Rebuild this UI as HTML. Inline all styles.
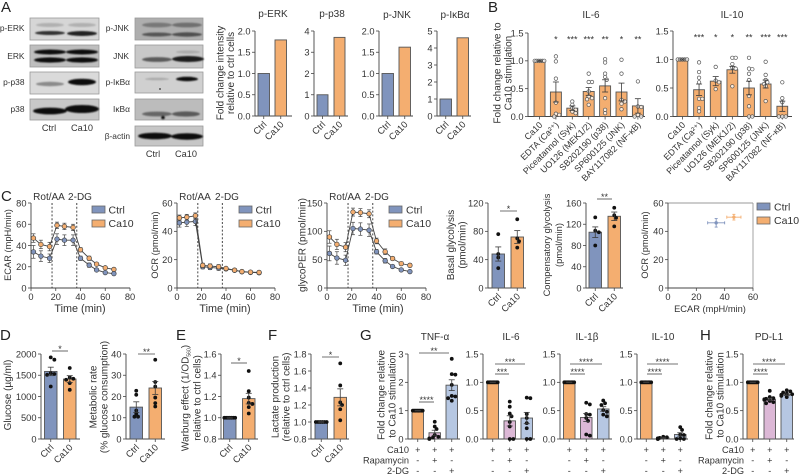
<!DOCTYPE html>
<html lang="en">
<head>
<meta charset="utf-8">
<title>Multi-panel figure</title>
<style>
html,body{margin:0;padding:0;background:#fff;width:800px;height:475px;overflow:hidden}
svg{display:block;filter:blur(0.3px)}
text{font-family:"Liberation Sans",Arial,sans-serif;fill:#333;font-size:9px}
.big{font-size:15px;fill:#222}
.ttl{font-size:10px;text-anchor:middle}
.at{font-size:10px;text-anchor:middle}
.at9{font-size:9.3px;text-anchor:middle}
.tm{font-size:10.8px;text-anchor:middle}
.leg{font-size:10.5px}
.blab{font-size:8.4px;text-anchor:end}
.lane{font-size:9.2px;text-anchor:middle}
.rl{font-size:9.2px;text-anchor:end}
</style>
</head>
<body>
<svg id="figure" width="800" height="475" viewBox="0 0 800 475" xmlns="http://www.w3.org/2000/svg">
<defs>
<filter id="bl" x="-20%" y="-80%" width="140%" height="260%"><feGaussianBlur stdDeviation="0.9"/></filter>
</defs>

<!-- Panel letters -->
<text class="big" x="1" y="12">A</text>
<text class="big" x="488" y="12">B</text>
<text class="big" x="1" y="201">C</text>
<text class="big" x="0" y="340">D</text>
<text class="big" x="176" y="340">E</text>
<text class="big" x="268" y="340">F</text>
<text class="big" x="360" y="340">G</text>
<text class="big" x="700" y="340">H</text>

<!-- Western blots -->
<g>
  <g><rect x="30" y="18" width="69" height="22" fill="#d6d6d6" stroke="#999" stroke-width=".8"/><g filter="url(#bl)"><ellipse cx="50" cy="25" rx="14" ry="2" fill="#b0b0b0"/><ellipse cx="82" cy="25" rx="14" ry="2" fill="#b0b0b0"/><ellipse cx="50" cy="33" rx="15" ry="2" fill="#333"/><ellipse cx="82" cy="33.5" rx="15" ry="2.5" fill="#222"/></g></g>
  <g><rect x="30" y="45" width="69" height="22" fill="#bebebe" stroke="#999" stroke-width=".8"/><g filter="url(#bl)"><ellipse cx="50" cy="52" rx="16" ry="2.5" fill="#111"/><ellipse cx="82" cy="52" rx="16" ry="2.5" fill="#111"/><ellipse cx="50" cy="60" rx="16" ry="2.6" fill="#111"/><ellipse cx="82" cy="60" rx="16" ry="2.6" fill="#111"/></g></g>
  <g><rect x="30" y="72" width="69" height="22" fill="#dadada" stroke="#999" stroke-width=".8"/><g filter="url(#bl)"><ellipse cx="50" cy="84" rx="14" ry="2.2" fill="#8a8a8a"/><ellipse cx="82" cy="82" rx="14" ry="3.2" fill="#111"/></g></g>
  <g><rect x="30" y="99" width="69" height="21" fill="#c8c8c8" stroke="#999" stroke-width=".8"/><g filter="url(#bl)"><ellipse cx="50" cy="111" rx="17" ry="3.4" fill="#0c0c0c"/><ellipse cx="82" cy="109" rx="17" ry="4" fill="#0c0c0c"/></g></g>
  <text class="blab" x="24.5" y="31">p-ERK</text>
  <text class="blab" x="24.5" y="59">ERK</text>
  <text class="blab" x="24.5" y="85">p-p38</text>
  <text class="blab" x="24.5" y="112">p38</text>
  <text class="lane" x="49" y="131">Ctrl</text>
  <text class="lane" x="82" y="131">Ca10</text>
</g>
<g>
  <g><rect x="135" y="18" width="68" height="22" fill="#aeaeae" stroke="#999" stroke-width=".8"/><g filter="url(#bl)"><ellipse cx="157" cy="25" rx="15" ry="2.4" fill="#787878"/><ellipse cx="187" cy="25" rx="15" ry="2.4" fill="#707070"/><ellipse cx="157" cy="34.5" rx="15" ry="2" fill="#555"/><ellipse cx="187" cy="34.5" rx="15" ry="2.2" fill="#505050"/></g></g>
  <g><rect x="135" y="45" width="68" height="23" fill="#c8c8c8" stroke="#999" stroke-width=".8"/><g filter="url(#bl)"><ellipse cx="188" cy="52" rx="12" ry="1.5" fill="#aaa"/><ellipse cx="157" cy="59.5" rx="15" ry="2.4" fill="#5a5a5a"/><ellipse cx="188" cy="59" rx="16" ry="3" fill="#1a1a1a"/></g></g>
  <g><rect x="135" y="72" width="68" height="21" fill="#d0d0d0" stroke="#999" stroke-width=".8"/><g filter="url(#bl)"><ellipse cx="157" cy="79" rx="12" ry="1.3" fill="#aaa"/><ellipse cx="187" cy="79" rx="11" ry="2.2" fill="#111"/></g><circle cx="160" cy="89" r=".9" fill="#333"/></g>
  <g><rect x="135" y="99" width="68" height="21" fill="#bcbcbc" stroke="#999" stroke-width=".8"/><g filter="url(#bl)"><ellipse cx="157" cy="114" rx="15" ry="2.4" fill="#666"/><ellipse cx="186" cy="114" rx="14" ry="2.6" fill="#5a5a5a"/><circle cx="163" cy="117.5" r="1.8" fill="#111"/></g></g>
  <g><rect x="135" y="126" width="68" height="20" fill="#c6c6c6" stroke="#999" stroke-width=".8"/><g filter="url(#bl)"><ellipse cx="155" cy="136" rx="17" ry="3.3" fill="#0c0c0c"/><ellipse cx="187" cy="136.5" rx="16" ry="3.2" fill="#0c0c0c"/></g></g>
  <text class="blab" x="129" y="31">p-JNK</text>
  <text class="blab" x="129" y="59">JNK</text>
  <text class="blab" x="130" y="85">p-IκBα</text>
  <text class="blab" x="130" y="112">IκBα</text>
  <text class="blab" x="130" y="139">β-actin</text>
  <text class="lane" x="153" y="157">Ctrl</text>
  <text class="lane" x="186" y="157">Ca10</text>
</g>

<!-- Titles -->
<text class="ttl" x="273" y="17">p-ERK</text>
<text class="ttl" x="332" y="17">p-p38</text>
<text class="ttl" x="397" y="18">p-JNK</text>
<text class="ttl" x="455" y="18">p-IκBα</text>
<text class="ttl" x="591" y="18">IL-6</text>
<text class="ttl" x="732" y="18">IL-10</text>
<text class="ttl" x="435" y="340">TNF-α</text>
<text class="ttl" x="511" y="340">IL-6</text>
<text class="ttl" x="587" y="340">IL-1β</text>
<text class="ttl" x="663" y="340">IL-10</text>
<text class="ttl" x="769" y="340">PD-L1</text>

<!-- Axis titles -->
<g>
<text class="at" transform="translate(223.500,73) rotate(-90)">Fold change intensity</text>
<text class="at" transform="translate(234,73) rotate(-90)">relative to ctrl cells</text>
<text class="at" transform="translate(500.500,73) rotate(-90)">Fold change relative to</text>
<text class="at" transform="translate(511.500,73) rotate(-90)">Ca10 stimulation</text>
<text class="at9" transform="translate(11,245) rotate(-90)">ECAR (mpH/min)</text>
<text class="at9" transform="translate(158,245) rotate(-90)">OCR (pmol/min)</text>
<text class="at" transform="translate(305.500,245) rotate(-90)">glycoPER (pmol/min)</text>
<text class="at" transform="translate(454,245) rotate(-90)">Basal glycolysis</text>
<text class="at" transform="translate(465.500,245) rotate(-90)">(pmol/min)</text>
<text class="at9" transform="translate(550,245) rotate(-90)">Compensatory glycolysis</text>
<text class="at9" transform="translate(562,245) rotate(-90)">(pmol/min)</text>
<text class="at9" transform="translate(648,245) rotate(-90)">OCR (pmol/min)</text>
<text class="tm" x="80" y="312">Time (min)</text>
<text class="tm" x="225" y="312">Time (min)</text>
<text class="tm" x="378" y="312">Time (min)</text>
<text class="at9" x="710" y="312">ECAR (mpH/min)</text>
<text class="at" transform="translate(11,395) rotate(-90)">Glucose (µg/ml)</text>
<text class="at" transform="translate(96.500,397) rotate(-90)">Metabolic rate</text>
<text class="at" transform="translate(107.500,397) rotate(-90)">(% glucose consumption)</text>
<text class="at" transform="translate(188.500,398) rotate(-90)">Warburg effect (1/OD<tspan font-size="5" style="font-size:5px" dy="2">560</tspan><tspan dy="-2">)</tspan></text>
<text class="at" transform="translate(200.500,398) rotate(-90)">relative to ctrl cells)</text>
<text class="at" transform="translate(278.500,397) rotate(-90)">Lactate production</text>
<text class="at" transform="translate(289.500,397) rotate(-90)">(relative to ctrl cells)</text>
<text class="at" transform="translate(384.500,395) rotate(-90)">Fold change relative</text>
<text class="at" transform="translate(395.500,395) rotate(-90)">to Ca10 stimulation</text>
<text class="at" transform="translate(712.500,395) rotate(-90)">Fold change relative</text>
<text class="at" transform="translate(723.500,395) rotate(-90)">to Ca10 stimulation</text>
</g>

<!-- Seahorse annotations -->
<g>
<text class="at" x="49" y="200">Rot/AA</text>
<text class="at" x="80" y="200">2-DG</text>
<text class="at" x="195" y="200">Rot/AA</text>
<text class="at" x="227" y="200">2-DG</text>
<text class="at" x="345" y="200">Rot/AA</text>
<text class="at" x="377" y="200">2-DG</text>
</g>

<!-- Legends -->
<g>
<rect x="92" y="206" width="13" height="7" fill="#8094bd" stroke="#666" stroke-width=".8"/><text class="leg" x="108.500" y="213.500">Ctrl</text>
<rect x="92" y="220" width="13" height="7" fill="#f4ae70" stroke="#666" stroke-width=".8"/><text class="leg" x="108.500" y="227">Ca10</text>
</g>
<g>
<rect x="239" y="206" width="13" height="7" fill="#8094bd" stroke="#666" stroke-width=".8"/><text class="leg" x="255.500" y="213.500">Ctrl</text>
<rect x="239" y="220" width="13" height="7" fill="#f4ae70" stroke="#666" stroke-width=".8"/><text class="leg" x="255.500" y="227">Ca10</text>
</g>
<g>
<rect x="389" y="206" width="13" height="7" fill="#8094bd" stroke="#666" stroke-width=".8"/><text class="leg" x="406" y="213.500">Ctrl</text>
<rect x="389" y="220" width="13" height="7" fill="#f4ae70" stroke="#666" stroke-width=".8"/><text class="leg" x="406" y="227">Ca10</text>
</g>
<g>
<rect x="757" y="203" width="13" height="7" fill="#8094bd" stroke="#666" stroke-width=".8"/><text class="leg" x="774" y="210.500">Ctrl</text>
<rect x="757" y="217" width="13" height="7" fill="#f4ae70" stroke="#666" stroke-width=".8"/><text class="leg" x="774" y="224">Ca10</text>
</g>

<!-- Treatment row labels -->
<g>
<text class="rl" x="409" y="453">Ca10</text>
<text class="rl" x="409" y="463.500">Rapamycin</text>
<text class="rl" x="409" y="474">2-DG</text>
<text class="rl" x="744" y="453">Ca10</text>
<text class="rl" x="744" y="463.500">Rapamycin</text>
<text class="rl" x="744" y="474">2-DG</text>
</g>

<g id="marks"></g>
</svg>

<script>
// ---------- Chart data ----------
const groupCats = ['Ctrl', 'Ca10'];
const inhibitorCats = ['Ca10', 'EDTA (Ca²⁺)', 'Piceatannol (Syk)', 'UO126 (MEK1/2)', 'SB202190 (p38)', 'SP600125 (JNK)', 'BAY117082 (NF-κB)'];

const perkMeans = [1, 1.79];
const pp38Means = [1, 3.7];
const pjnkMeans = [1, 1.62];
const pikbaMeans = [1, 4.6];
const ticksTwo = [0, 0.5, 1, 1.5, 2];
const labelsTwo = ['0.0', '0.5', '1.0', '1.5', '2.0'];
const ticksFour = [0, 1, 2, 3, 4];
const ticksFive = [0, 1, 2, 3, 4, 5];
const ticksOneHalf = [0, 0.5, 1, 1.5];
const labelsOneHalf = ['0.0', '0.5', '1.0', '1.5'];

const il6Means = [1, 0.44, 0.15, 0.45, 0.55, 0.44, 0.19];
const il6Errors = [0.01, 0.18, 0.04, 0.07, 0.11, 0.16, 0.13];
const il6Stars = ['', '*', '***', '***', '**', '*', '**'];
const il6Dots = [
  [1, 1, 1, 1, 1, 1],
  [1.08, 0.99, 0.68, 0.25, 0.05, 0.03, 0],
  [0.27, 0.21, 0.15, 0.12, 0.09, 0.06],
  [0.77, 0.62, 0.62, 0.45, 0.36, 0.33, 0.31, 0.21],
  [1.03, 0.97, 0.77, 0.71, 0.66, 0.33, 0.12, 0.06],
  [1.02, 0.77, 0.3, 0.27, 0.23, 0.13],
  [0.63, 0.18, 0.17, 0.03, 0, 0]
];
const il10Means = [1, 0.47, 0.62, 0.82, 0.5, 0.57, 0.18];
const il10Errors = [0.01, 0.1, 0.08, 0.06, 0.12, 0.07, 0.09];
const il10Stars = ['', '***', '*', '*', '**', '***', '***'];
const il10Dots = [
  [1, 1, 1, 1, 1],
  [0.95, 0.78, 0.68, 0.6, 0.31, 0.31, 0.15, 0.09],
  [0.87, 0.63, 0.6, 0.48],
  [1.03, 1.03, 0.92, 0.86, 0.84, 0.53],
  [1.03, 0.84, 0.83, 0.75, 0.64, 0.36, 0.18, 0, 0],
  [0.96, 0.73, 0.64, 0.6, 0.57, 0.53, 0.27],
  [0.6, 0.32, 0.25, 0, 0, 0]
];

const seahorseTimes = [2, 8, 15, 21, 27, 34, 40, 47, 53, 60, 67];
const ecarCtrl = [34, 30, 28, 46, 45, 45, 28, 21.5, 17, 14.5, 13.5];
const ecarCtrlErr = [6, 5, 4, 5, 5, 5, 2, 2, 1, 1, 1];
const ecarCa10 = [47, 41, 39, 59, 58, 57, 36, 28, 22.5, 19, 17.5];
const ecarCa10Err = [4, 4, 4, 3, 3, 3, 2, 2, 1, 1, 1];
const ocrCtrl = [46, 46.5, 47, 15, 14.5, 14, 13.5, 12.5, 11.5, 11, 10.8];
const ocrCtrlErr = [3, 3, 3, 1.5, 1.5, 1.5, 1, 1, 1, 1, 1];
const ocrCa10 = [49.5, 50, 51, 16, 15.5, 15, 13.8, 12.6, 11.6, 11.2, 11];
const ocrCa10Err = [2, 2, 2, 1.5, 1.5, 1.5, 1, 1, 1, 1, 1];
const glycoCtrl = [61, 53, 49, 105, 104, 102, 64, 48, 38, 32, 29];
const glycoCtrlErr = [13, 11, 9, 11, 11, 11, 4, 4, 2, 2, 2];
const glycoCa10 = [90, 77, 72, 134, 133, 131, 83, 64, 52, 43, 40];
const glycoCa10Err = [11, 9, 8, 7, 7, 7, 5, 5, 3, 3, 3];
const ticksEcar = [0, 20, 40, 60, 80];
const ticksOcr = [0, 20, 40, 60];
const ticksGlyco = [0, 50, 100, 150];
const ticksTime = [0, 20, 40, 60, 80];
const treatmentTimes = [17, 37];

const basalMeans = [48, 72];
const basalErrors = [10, 9];
const basalDots = [[76, 48, 43, 28], [97, 70, 66, 57]];
const ticksBasal = [0, 40, 80, 120];
const compMeans = [105, 135];
const compErrors = [10, 8];
const compDots = [[133, 108, 105, 80], [151, 137, 132, 116]];
const ticksComp = [0, 40, 80, 120, 160];

const xyEcar = [34, 46.5];
const xyEcarErr = [6, 5];
const xyOcr = [46, 50];
const xyOcrErr = [3, 2];
const ticksXy = [0, 20, 40, 60];

const glucoseMeans = [1590, 1410];
const glucoseErrors = [100, 80];
const glucoseDots = [[1921, 1866, 1550, 1530, 1510, 1236], [1670, 1450, 1417, 1394, 1315, 1157]];
const ticksGlucose = [0, 500, 1000, 1500, 2000];
const metabolicMeans = [15, 24];
const metabolicErrors = [2.5, 3];
const metabolicDots = [[22.7, 20.8, 13.4, 11.8, 10.5, 10.5], [37.3, 26.8, 24.7, 19.5, 16.9, 15.3]];
const ticksMetabolic = [0, 10, 20, 30, 40];
const warburgMeans = [1, 1.18];
const warburgErrors = [0.005, 0.05];
const warburgDots = [[1, 1, 1, 1, 1, 1, 1], [1.44, 1.25, 1.19, 1.14, 1.13, 1.1, 1.04]];
const ticksWarburg = [0.8, 1, 1.2, 1.4, 1.6];
const labelsWarburg = ['0.8', '1.0', '1.2', '1.4', '1.6'];
const lactateMeans = [1, 1.29];
const lactateErrors = [0.005, 0.1];
const lactateDots = [[1, 1, 1, 1, 1, 1], [1.69, 1.43, 1.23, 1.2, 1.15, 1.02]];
const ticksLactate = [0.8, 1, 1.2, 1.4, 1.6, 1.8];
const labelsLactate = ['0.8', '1.0', '1.2', '1.4', '1.6', '1.8'];

const onesEight = [1, 1, 1, 1, 1, 1, 1, 1];
const tnfMeans = [1, 0.22, 1.9];
const tnfErrors = [0.01, 0.09, 0.19];
const tnfDots = [onesEight, [0.61, 0.44, 0.35, 0.14, 0.08, 0.05, 0.02, 0], [2.83, 2.29, 2.27, 1.91, 1.52, 1.5, 1.44, 1.35]];
const ticksTnf = [0, 1, 2, 3];
const gIl6Means = [1, 0.32, 0.37];
const gIl6Errors = [0.005, 0.09, 0.1];
const gIl6Dots = [onesEight, [0.66, 0.57, 0.45, 0.4, 0.3, 0.22, 0, 0], [0.73, 0.72, 0.44, 0.37, 0.28, 0.19, 0, 0]];
const il1bMeans = [1, 0.38, 0.53];
const il1bErrors = [0.005, 0.07, 0.04];
const il1bDots = [onesEight, [0.64, 0.61, 0.44, 0.43, 0.37, 0.32, 0.08, 0.06], [0.68, 0.63, 0.6, 0.51, 0.48, 0.43, 0.4]];
const gIl10Means = [1, 0.02, 0.08];
const gIl10Errors = [0.005, 0.01, 0.03];
const gIl10Dots = [onesEight, [0.04, 0.03, 0.02, 0.01, 0.01, 0, 0], [0.21, 0.16, 0.08, 0.07, 0.01, 0, 0]];
const pdl1Means = [1, 0.7, 0.78];
const pdl1Errors = [0.005, 0.02, 0.015];
const pdl1Dots = [onesEight, [0.85, 0.74, 0.72, 0.71, 0.7, 0.69, 0.67, 0.65, 0.63], [0.86, 0.84, 0.82, 0.8, 0.79, 0.78, 0.76, 0.74]];
const signCa10 = ['+', '+', '+'];
const signRapamycin = ['-', '+', '-'];
const sign2dg = ['-', '-', '+'];

// ---------- Drawing helpers ----------
const NS = 'http://www.w3.org/2000/svg';
const root = document.getElementById('marks');
const BLUE = '#8094bd', ORANGE = '#f4ae70', PINK = '#dcb8d6', LIGHT = '#b6c7e2';
const STROKE = '#555', AXIS = '#444';

function mk(tag, attrs, parent) {
  const el = document.createElementNS(NS, tag);
  for (const k in attrs) el.setAttribute(k, attrs[k]);
  parent.appendChild(el);
  return el;
}
function linear(d0, d1, r0, r1) {
  return v => r0 + (v - d0) / (d1 - d0) * (r1 - r0);
}
function seg(parent, x1, y1, x2, y2, color, w, name) {
  const el = mk('line', { x1, y1, x2, y2, stroke: color, 'stroke-width': w }, parent);
  
  
  return el;
}
function label(parent, x, y, str, anchor, name, extra) {
  const el = mk('text', Object.assign({ x, y, 'text-anchor': anchor }, extra || {}), parent);
  el.textContent = str;
  
  
  return el;
}
function yAxis(g, x, y, ticks, labels) {
  seg(g, x, y(ticks[0]), x, y(ticks[ticks.length - 1]), AXIS, 0.9, 'y-axis-line');
  ticks.forEach((t, i) => {
    seg(g, x - 3, y(t), x, y(t), AXIS, 0.8, 'y-tick');
    const tl = label(g, x - 4.5, y(t) + 3.3, labels ? labels[i] : String(t), 'end', 'y-tick-label');
    tl.style.fontSize = '9.3px';
  });
}
function xTicks(g, y0, ticks, x, labels) {
  ticks.forEach((t, i) => {
    seg(g, x(t), y0, x(t), y0 + 3, AXIS, 0.8, 'x-tick');
    const tl = label(g, x(t), y0 + 12, labels ? labels[i] : String(t), 'middle', 'x-tick-label');
    tl.style.fontSize = '9.3px';
  });
}
// Beeswarm: spreads overlapping values sideways; identical replicates fan out across the bar, as in Prism.
function swarm(values, y, r, maxOff) {
  const placed = [];
  const counts = {}, seen = {};
  values.forEach(v => { counts[v] = (counts[v] || 0) + 1; });
  values.forEach(v => {
    const py = y(v);
    let off = 0;
    if (counts[v] >= 3) {
      seen[v] = (seen[v] || 0) + 1;
      const span = Math.min(maxOff - r * 0.7, (counts[v] - 1) * r);
      off = -span + 2 * span * (seen[v] - 1) / (counts[v] - 1);
    } else {
      for (let k = 0; k < 20; k++) {
        const cand = (k % 2 ? 1 : -1) * Math.ceil(k / 2) * r * 0.95;
        if (Math.abs(cand) > maxOff) continue;
        off = cand;
        if (placed.every(p => Math.hypot(p.dx - cand, p.py - py) >= r * 1.6)) break;
      }
    }
    placed.push({ dx: off, py });
  });
  return placed;
}
function barPanel(o) {
  const g = mk('g', {}, root);
  
  
  const y = linear(o.domain[0], o.domain[1], o.bottom, o.top);
  yAxis(g, o.axisX, y, o.ticks, o.labels);
  seg(g, o.axisX, o.bottom, o.endX, o.bottom, AXIS, 0.9, 'x-axis-line');
  const centers = [];
  o.means.forEach((m, i) => {
    const left = o.first + i * o.step, cx = left + o.width / 2;
    centers.push(cx);
    const bar = mk('rect', { x: left, y: y(m), width: o.width, height: o.bottom - y(m), fill: o.colors[i], stroke: STROKE, 'stroke-width': 0.9 }, g);
    
    
    seg(g, cx, o.bottom, cx, o.bottom + 3, AXIS, 0.8, 'x-tick');
    if (o.cats) {
      const t = label(g, cx + 3.5, o.bottom + 9, o.cats[i], 'end', 'x-tick-label');
      t.setAttribute('transform', 'rotate(-45 ' + (cx + 3.5) + ' ' + (o.bottom + 9) + ')');
      t.style.fontSize = (o.catSize || 9.3) + 'px';
    }
  });
  if (o.dots) {
    o.dots.forEach((vals, i) => {
      const r = o.open ? 1.75 : 1.9;
      swarm(vals, y, r, o.width / 2 + 0.5).forEach(p => {
        const c = mk('circle', { cx: centers[i] + p.dx, cy: p.py, r, fill: o.open ? '#fff' : '#111', 'fill-opacity': o.open ? 0.75 : 1, stroke: o.open ? '#555' : '#111', 'stroke-width': o.open ? 0.7 : 0 }, g);
        
        
      });
    });
  }
  if (o.errors) {
    o.errors.forEach((e, i) => {
      const cx = centers[i];
      seg(g, cx, y(o.means[i] - e), cx, y(o.means[i] + e), '#3a3a3a', 0.8, 'error-bar');
      seg(g, cx - 3, y(o.means[i] + e), cx + 3, y(o.means[i] + e), '#3a3a3a', 0.8, 'error-cap');
      seg(g, cx - 3, y(o.means[i] - e), cx + 3, y(o.means[i] - e), '#3a3a3a', 0.8, 'error-cap');
    });
  }
  if (o.stars) {
    o.stars.forEach((s, i) => {
      if (s) label(g, centers[i], o.starY, s, 'middle', 'significance-stars');
    });
  }
  (o.sigs || []).forEach(s => {
    seg(g, s[0], s[2], s[1], s[2], AXIS, 0.8, 'significance-line');
    label(g, (s[0] + s[1]) / 2, s[2] + 1, s[3], 'middle', 'significance-stars');
  });
  return centers;
}
function series(g, x, y, xs, ys, errs, color, nm) {
  const sg = mk('g', {}, g);
  
  
  const pts = xs.map((t, i) => x(t) + ',' + y(ys[i])).join(' ');
  const pl = mk('polyline', { points: pts, fill: 'none', stroke: '#444', 'stroke-width': 0.9 }, sg);
  
  
  xs.forEach((t, i) => {
    seg(sg, x(t), y(ys[i] - errs[i]), x(t), y(ys[i] + errs[i]), '#444', 0.7, 'error-bar');
    seg(sg, x(t) - 2, y(ys[i] + errs[i]), x(t) + 2, y(ys[i] + errs[i]), '#444', 0.7, 'error-cap');
    seg(sg, x(t) - 2, y(ys[i] - errs[i]), x(t) + 2, y(ys[i] - errs[i]), '#444', 0.7, 'error-cap');
    const c = mk('circle', { cx: x(t), cy: y(ys[i]), r: 2.3, fill: color, stroke: '#444', 'stroke-width': 0.7 }, sg);
    
    
  });
}
function linePanel(o) {
  const g = mk('g', {}, root);
  
  
  const x = linear(0, 80, o.x0, o.x1);
  const y = linear(0, o.ticks[o.ticks.length - 1], 288, 203);
  yAxis(g, o.x0, y, o.ticks);
  seg(g, o.x0, 288, o.x1, 288, AXIS, 0.9, 'x-axis-line');
  xTicks(g, 288, ticksTime, x);
  treatmentTimes.forEach(t => {
    const d = seg(g, x(t), 203, x(t), 288, '#333', 0.9, 'treatment-line');
    d.setAttribute('stroke-dasharray', '2 1.8');
  });
  series(g, x, y, seahorseTimes, o.second, o.secondErr, o.secondColor, o.secondName);
  series(g, x, y, seahorseTimes, o.first, o.firstErr, o.firstColor, o.firstName);
}

// ---------- Panel A ----------
const twoColors = [BLUE, ORANGE];
barPanel({ name: 'chart-p-erk', axisX: 255, endX: 292, top: 31, bottom: 116, domain: [0, 2], ticks: ticksTwo, labels: labelsTwo, means: perkMeans, first: 258, step: 17, width: 11.5, colors: twoColors, cats: groupCats });
barPanel({ name: 'chart-p-p38', axisX: 314, endX: 348, top: 31, bottom: 116, domain: [0, 4], ticks: ticksFour, means: pp38Means, first: 317, step: 17, width: 11, colors: twoColors, cats: groupCats });
barPanel({ name: 'chart-p-jnk', axisX: 379, endX: 413, top: 31, bottom: 116, domain: [0, 2], ticks: ticksTwo, labels: labelsTwo, means: pjnkMeans, first: 382, step: 17, width: 11.5, colors: twoColors, cats: groupCats });
barPanel({ name: 'chart-p-ikba', axisX: 437, endX: 471, top: 31, bottom: 116, domain: [0, 5], ticks: ticksFive, means: pikbaMeans, first: 440, step: 17, width: 11.5, colors: twoColors, cats: groupCats });

// ---------- Panel B ----------
const sevenOrange = [ORANGE, ORANGE, ORANGE, ORANGE, ORANGE, ORANGE, ORANGE];
barPanel({ name: 'chart-il6', axisX: 528, endX: 645, top: 33, bottom: 116.5, domain: [0, 1.5], ticks: ticksOneHalf, labels: labelsOneHalf, means: il6Means, errors: il6Errors, dots: il6Dots, open: true, first: 534, step: 16.4, width: 11, colors: sevenOrange, cats: inhibitorCats, catSize: 8.9, stars: il6Stars, starY: 42.5 });
barPanel({ name: 'chart-il10', axisX: 673, endX: 792, top: 31, bottom: 116.5, domain: [0, 1.5], ticks: ticksOneHalf, labels: labelsOneHalf, means: il10Means, errors: il10Errors, dots: il10Dots, open: true, first: 677, step: 16.65, width: 10.8, colors: sevenOrange, cats: inhibitorCats, catSize: 8.9, stars: il10Stars, starY: 40.5 });

// ---------- Panel C ----------
linePanel({ name: 'chart-ecar', x0: 31, x1: 130, ticks: ticksEcar, first: ecarCtrl, firstErr: ecarCtrlErr, firstColor: BLUE, firstName: 'series-ctrl', second: ecarCa10, secondErr: ecarCa10Err, secondColor: ORANGE, secondName: 'series-ca10' });
linePanel({ name: 'chart-ocr', x0: 177, x1: 275, ticks: ticksOcr, first: ocrCa10, firstErr: ocrCa10Err, firstColor: ORANGE, firstName: 'series-ca10', second: ocrCtrl, secondErr: ocrCtrlErr, secondColor: BLUE, secondName: 'series-ctrl' });
linePanel({ name: 'chart-glycoper', x0: 327, x1: 426, ticks: ticksGlyco, first: glycoCtrl, firstErr: glycoCtrlErr, firstColor: BLUE, firstName: 'series-ctrl', second: glycoCa10, secondErr: glycoCa10Err, secondColor: ORANGE, secondName: 'series-ca10' });
barPanel({ name: 'chart-basal-glycolysis', axisX: 488, endX: 526, top: 203, bottom: 288, domain: [0, 120], ticks: ticksBasal, means: basalMeans, errors: basalErrors, dots: basalDots, first: 492, step: 19, width: 12.5, colors: twoColors, cats: groupCats, sigs: [[500, 517, 211, '*']] });
barPanel({ name: 'chart-compensatory-glycolysis', axisX: 586, endX: 623, top: 203, bottom: 288, domain: [0, 160], ticks: ticksComp, means: compMeans, errors: compErrors, dots: compDots, first: 589, step: 19, width: 12.5, colors: twoColors, cats: groupCats, sigs: [[597, 612, 199, '**']] });

(function xyPanel() {
  const g = mk('g', {}, root);
  
  
  const x = linear(0, 60, 668, 753);
  const y = linear(0, 60, 288, 203);
  seg(g, 668, 203, 753, 203, '#999', 0.9, 'plot-frame-top');
  seg(g, 753, 203, 753, 288, '#999', 0.9, 'plot-frame-right');
  yAxis(g, 668, y, ticksXy);
  seg(g, 668, 288, 753, 288, AXIS, 0.9, 'x-axis-line');
  xTicks(g, 288, ticksXy, x);
  const cols = [BLUE, ORANGE];
  xyEcar.forEach((v, i) => {
    seg(g, x(v - xyEcarErr[i]), y(xyOcr[i]), x(v + xyEcarErr[i]), y(xyOcr[i]), cols[i], 0.9, 'x-error-bar');
    seg(g, x(v), y(xyOcr[i] - xyOcrErr[i]), x(v), y(xyOcr[i] + xyOcrErr[i]), cols[i], 0.9, 'y-error-bar');
    seg(g, x(v - xyEcarErr[i]), y(xyOcr[i]) - 1.5, x(v - xyEcarErr[i]), y(xyOcr[i]) + 1.5, cols[i], 0.9, 'error-cap');
    seg(g, x(v + xyEcarErr[i]), y(xyOcr[i]) - 1.5, x(v + xyEcarErr[i]), y(xyOcr[i]) + 1.5, cols[i], 0.9, 'error-cap');
    seg(g, x(v) - 1.5, y(xyOcr[i] + xyOcrErr[i]), x(v) + 1.5, y(xyOcr[i] + xyOcrErr[i]), cols[i], 0.9, 'error-cap');
    seg(g, x(v) - 1.5, y(xyOcr[i] - xyOcrErr[i]), x(v) + 1.5, y(xyOcr[i] - xyOcrErr[i]), cols[i], 0.9, 'error-cap');
    const c = mk('circle', { cx: x(v), cy: y(xyOcr[i]), r: 1.7, fill: cols[i] }, g);
    
    
  });
})();

// ---------- Panels D, E, F ----------
barPanel({ name: 'chart-glucose', axisX: 41, endX: 80, top: 354, bottom: 439, domain: [0, 2000], ticks: ticksGlucose, means: glucoseMeans, errors: glucoseErrors, dots: glucoseDots, first: 44.500, step: 19, width: 12.5, colors: twoColors, cats: groupCats, sigs: [[52, 68, 351, '*']] });
barPanel({ name: 'chart-metabolic-rate', axisX: 126, endX: 165, top: 354, bottom: 439, domain: [0, 40], ticks: ticksMetabolic, means: metabolicMeans, errors: metabolicErrors, dots: metabolicDots, first: 130, step: 19, width: 12.5, colors: twoColors, cats: groupCats, sigs: [[138, 155, 354, '**']] });
barPanel({ name: 'chart-warburg', axisX: 221, endX: 258, top: 354, bottom: 439, domain: [0.8, 1.6], ticks: ticksWarburg, labels: labelsWarburg, means: warburgMeans, errors: warburgErrors, dots: warburgDots, first: 223.500, step: 19, width: 12.5, colors: twoColors, cats: groupCats, sigs: [[231, 247, 363, '*']] });
barPanel({ name: 'chart-lactate', axisX: 311, endX: 349, top: 354, bottom: 439, domain: [0.8, 1.8], ticks: ticksLactate, labels: labelsLactate, means: lactateMeans, errors: lactateErrors, dots: lactateDots, first: 315, step: 19, width: 12.5, colors: twoColors, cats: groupCats, sigs: [[322, 339, 357, '*']] });

// ---------- Panels G, H ----------
const gColorsOrange = [ORANGE, PINK, LIGHT];
const gColors = [ORANGE, PINK, LIGHT];
function signRows(centers, panel) {
  centers.forEach((cx, i) => {
    label(panel, cx, 453, signCa10[i], 'middle', 'ca10-sign');
    label(panel, cx, 463.5, signRapamycin[i], 'middle', 'rapamycin-sign');
    label(panel, cx, 474, sign2dg[i], 'middle', 'two-dg-sign');
  });
}
const signLayer = mk('g', {}, root);


signRows(barPanel({ name: 'chart-tnf', axisX: 408, endX: 460, top: 354, bottom: 439, domain: [0, 3], ticks: ticksTnf, means: tnfMeans, errors: tnfErrors, dots: tnfDots, first: 412, step: 17, width: 11.5, colors: gColorsOrange, sigs: [[419, 449, 353, '**'], [419, 434, 402, '****']] }), signLayer);
signRows(barPanel({ name: 'chart-g-il6', axisX: 483, endX: 535, top: 354, bottom: 439, domain: [0, 1.5], ticks: ticksOneHalf, labels: labelsOneHalf, means: gIl6Means, errors: gIl6Errors, dots: gIl6Dots, first: 487, step: 17, width: 11.5, colors: gColors, sigs: [[495, 525, 364, '***'], [495, 509, 374, '***']] }), signLayer);
signRows(barPanel({ name: 'chart-g-il1b', axisX: 560, endX: 612, top: 354, bottom: 439, domain: [0, 1.5], ticks: ticksOneHalf, labels: labelsOneHalf, means: il1bMeans, errors: il1bErrors, dots: il1bDots, first: 563.500, step: 17, width: 11.5, colors: gColors, sigs: [[570, 602, 364, '****'], [570, 585, 374, '****']] }), signLayer);
signRows(barPanel({ name: 'chart-g-il10', axisX: 637, endX: 688, top: 354, bottom: 439, domain: [0, 1.5], ticks: ticksOneHalf, labels: labelsOneHalf, means: gIl10Means, errors: gIl10Errors, dots: gIl10Dots, first: 640.500, step: 17, width: 11.5, colors: gColors, sigs: [[647, 678, 364, '****'], [647, 662, 374, '****']] }), signLayer);
signRows(barPanel({ name: 'chart-pd-l1', axisX: 743, endX: 794, top: 354, bottom: 439, domain: [0, 1.5], ticks: ticksOneHalf, labels: labelsOneHalf, means: pdl1Means, errors: pdl1Errors, dots: pdl1Dots, first: 747, step: 17, width: 11.5, colors: gColors, sigs: [[753, 785, 364, '****'], [753, 768, 374, '****']] }), signLayer);
</script>
</body>
</html>
